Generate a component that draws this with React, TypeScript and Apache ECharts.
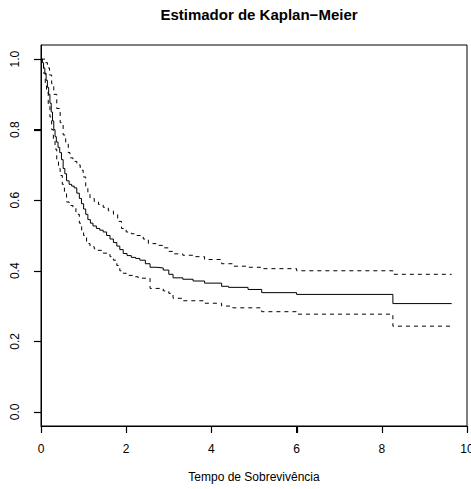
import React, { useEffect, useRef } from "react";
import * as echarts from "echarts";

const title = "Estimador de Kaplan−Meier";
const xTitle = "Tempo de Sobrevivência";
const xTicks = [0, 2, 4, 6, 8, 10];
const yTicks = [0, 0.2, 0.4, 0.6, 0.8, 1.0];

const survTime = [0, 0.03, 0.06, 0.09, 0.12, 0.15, 0.18, 0.21, 0.24, 0.27, 0.3, 0.33, 0.36, 0.4, 0.44, 0.48, 0.52, 0.56, 0.6, 0.66, 0.72, 0.78, 0.84, 0.9, 0.95, 1.0, 1.05, 1.1, 1.16, 1.22, 1.3, 1.38, 1.46, 1.54, 1.62, 1.7, 1.78, 1.85, 1.93, 2.02, 2.12, 2.22, 2.32, 2.45, 2.56, 2.7, 2.87, 3.0, 3.1, 3.33, 3.57, 3.84, 4.24, 4.4, 4.86, 5.18, 6.0, 8.26, 9.64];
const survEst = [1.0, 0.99, 0.975, 0.96, 0.94, 0.92, 0.9, 0.875, 0.85, 0.825, 0.8, 0.78, 0.765, 0.75, 0.735, 0.715, 0.69, 0.675, 0.655, 0.645, 0.64, 0.635, 0.62, 0.605, 0.59, 0.575, 0.56, 0.545, 0.535, 0.527, 0.52, 0.515, 0.51, 0.5, 0.49, 0.48, 0.47, 0.46, 0.449, 0.443, 0.438, 0.435, 0.43, 0.42, 0.41, 0.408, 0.402, 0.39, 0.38, 0.376, 0.371, 0.365, 0.356, 0.353, 0.347, 0.338, 0.333, 0.307, 0.307];

const upperTime = [0, 0.05, 0.1, 0.15, 0.2, 0.25, 0.3, 0.37, 0.45, 0.52, 0.58, 0.64, 0.68, 0.75, 0.84, 0.92, 0.99, 1.05, 1.1, 1.15, 1.25, 1.35, 1.46, 1.58, 1.7, 1.8, 1.89, 2.0, 2.12, 2.25, 2.4, 2.52, 2.7, 2.87, 3.0, 3.1, 3.33, 3.6, 3.84, 4.24, 4.5, 4.86, 5.18, 6.0, 8.26, 9.64];
const upperCI = [1.0, 1.0, 0.99, 0.975, 0.955, 0.93, 0.9, 0.86, 0.82, 0.785, 0.76, 0.735, 0.72, 0.71, 0.7, 0.685, 0.666, 0.64, 0.62, 0.605, 0.595, 0.588, 0.58, 0.57, 0.56, 0.54, 0.52, 0.51, 0.505, 0.5, 0.49, 0.477, 0.472, 0.465, 0.455, 0.448, 0.444, 0.44, 0.432, 0.42, 0.413, 0.41, 0.406, 0.4, 0.39, 0.39];

const lowerTime = [0, 0.03, 0.06, 0.1, 0.13, 0.17, 0.21, 0.25, 0.29, 0.33, 0.37, 0.41, 0.45, 0.5, 0.55, 0.6, 0.66, 0.75, 0.82, 0.9, 0.955, 1.0, 1.07, 1.15, 1.25, 1.31, 1.45, 1.62, 1.7, 1.78, 1.85, 1.93, 2.0, 2.15, 2.28, 2.56, 2.87, 3.0, 3.1, 3.33, 3.84, 4.24, 4.5, 5.18, 6.0, 8.26, 9.64];
const lowerCI = [1.0, 0.985, 0.96, 0.93, 0.905, 0.87, 0.836, 0.8, 0.77, 0.745, 0.714, 0.69, 0.67, 0.645, 0.62, 0.595, 0.585, 0.58, 0.56, 0.535, 0.515, 0.5, 0.477, 0.468, 0.462, 0.458, 0.45, 0.44, 0.43, 0.415, 0.4, 0.393, 0.387, 0.383, 0.379, 0.35, 0.343, 0.336, 0.322, 0.315, 0.308, 0.3, 0.295, 0.284, 0.277, 0.243, 0.243];

const FONT = "'Liberation Sans', Arial, Helvetica, sans-serif";
const Y_MIN = -0.04;
const Y_MAX = 1.04;
const X_MIN = 0;
const X_MAX = 10;
const TICK_LEN = 7;

const pairs = (xs: number[], ys: number[]) => xs.map((x, i) => [x, ys[i]]);

export default function App() {
  const ref = useRef<HTMLDivElement>(null);
  useEffect(() => {
    if (!ref.current) return;
    const chart = echarts.init(ref.current, undefined, { renderer: "svg" });
    const stepLine = (name: string, data: number[][], dashed: boolean) => ({
      name,
      type: "line",
      step: "end",
      showSymbol: false,
      symbol: "none",
      data,
      lineStyle: { color: "#000", width: 1, type: dashed ? [4, 4] : "solid" },
      silent: true,
    });
    chart.setOption({
      animation: false,
      backgroundColor: "#fff",
      title: {
        text: title,
        left: 254,
        textAlign: "center",
        top: 2,
        textStyle: { fontFamily: FONT, fontSize: 15, fontWeight: "bold", color: "#000" },
      },
      grid: {
        left: 41,
        right: 4,
        top: 45,
        bottom: 63,
        containLabel: false,
        outerBounds: { left: -100, right: -100, top: -100, bottom: -100 },
        show: true,
        borderColor: "#000",
        borderWidth: 1,
        backgroundColor: "transparent",
      },
      xAxis: {
        type: "value",
        position: "bottom",
        min: X_MIN,
        max: X_MAX,
        interval: 2,
        splitLine: { show: false },
        axisLine: { show: true, onZero: false, lineStyle: { color: "#000", width: 1 } },
        axisTick: { show: true, inside: false, length: TICK_LEN, lineStyle: { color: "#000", width: 1 } },
        axisLabel: { color: "#000", fontFamily: FONT, fontSize: 12, margin: 17, showMaxLabel: true, showMinLabel: true, hideOverlap: false },
        name: xTitle,
        nameLocation: "middle",
        nameGap: 45,
        nameTextStyle: { fontFamily: FONT, fontSize: 12, color: "#000" },
      },
      yAxis: {
        type: "value",
        position: "left",
        min: Y_MIN,
        max: Y_MAX,
        splitLine: { show: false },
        axisLine: { show: true, onZero: false, lineStyle: { color: "#000", width: 1 } },
        axisTick: { show: true, inside: false, length: TICK_LEN, lineStyle: { color: "#000", width: 1 }, customValues: yTicks },
        axisLabel: {
          customValues: yTicks,
          rotate: 90,
          color: "#000",
          fontFamily: FONT,
          fontSize: 12,
          margin: 20,
          formatter: (v: number) => v.toFixed(1),
        },
      },
      series: [
        stepLine("Sobrevivência", pairs(survTime, survEst), false),
        stepLine("IC superior", pairs(upperTime, upperCI), true),
        stepLine("IC inferior", pairs(lowerTime, lowerCI), true),
      ],
    });

    // Tick marks placed through the chart's own scales
    const tickStyle = { stroke: "#000", lineWidth: 1.2 };
    const elements: any[] = [];
    xTicks.forEach((v) => {
      const [px, py] = chart.convertToPixel({ gridIndex: 0 }, [v, Y_MIN]) as number[];
      const x = Math.round(px) + 0.5;
      const y = Math.round(py);
      elements.push({ type: "line", silent: true, z: 100, shape: { x1: x, y1: y, x2: x, y2: y + TICK_LEN }, style: tickStyle });
    });
    yTicks.forEach((v) => {
      const [px, py] = chart.convertToPixel({ gridIndex: 0 }, [X_MIN, v]) as number[];
      const x = Math.round(px);
      const y = Math.round(py) + 0.5;
      elements.push({ type: "line", silent: true, z: 100, shape: { x1: x - TICK_LEN, y1: y, x2: x, y2: y }, style: tickStyle });
    });
    chart.setOption({ graphic: { elements } });

    return () => chart.dispose();
  }, []);
  return <div ref={ref} style={{ width: 471, height: 489, position: "absolute", left: 0, top: 0 }} />;
}
